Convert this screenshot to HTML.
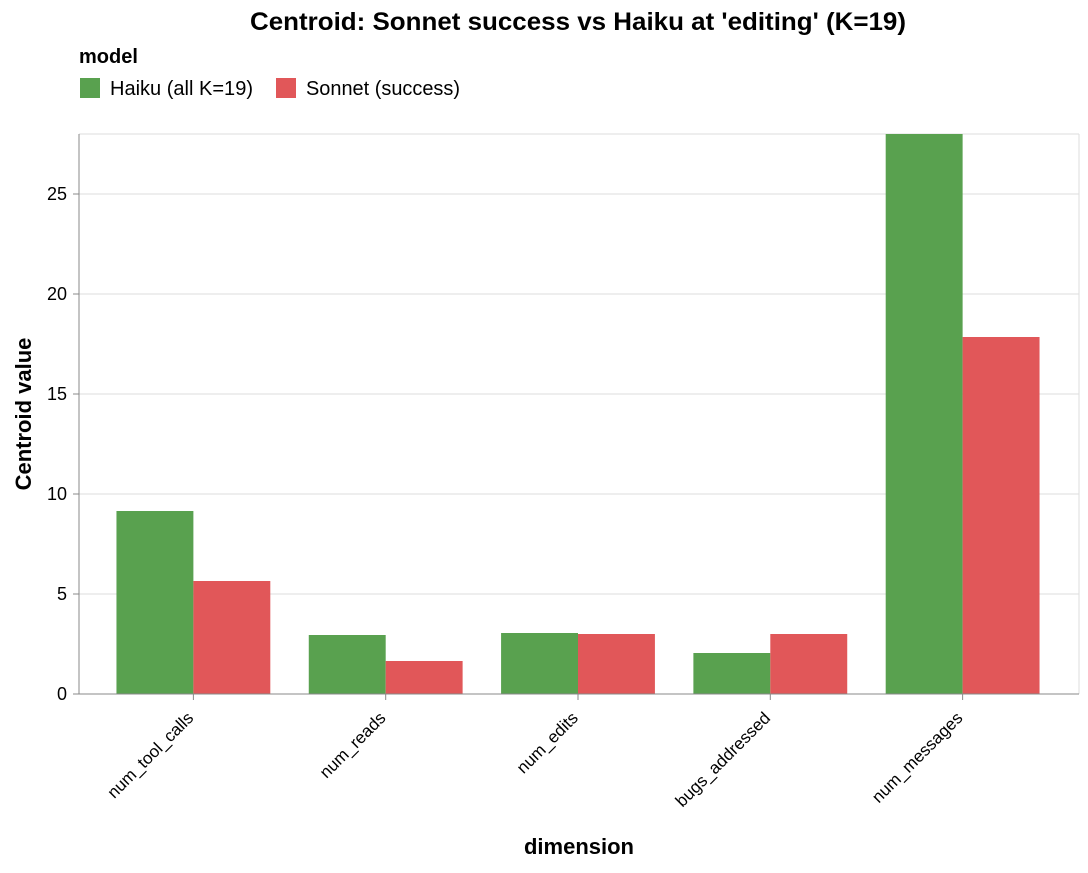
<!DOCTYPE html>
<html><head><meta charset="utf-8"><style>
body{margin:0;background:#fff;font-family:"Liberation Sans",Arial,sans-serif}
</style></head><body>
<svg id="chart" width="1088" height="868" xmlns="http://www.w3.org/2000/svg">
<text x="578" y="30" text-anchor="middle" font-size="25" font-weight="bold" textLength="656" lengthAdjust="spacingAndGlyphs">Centroid: Sonnet success vs Haiku at 'editing' (K=19)</text>
<text x="79" y="63" font-size="20" font-weight="bold">model</text>
<g><rect x="80" y="78" width="20" height="20" fill="#59a14f"/><text x="110" y="95" font-size="20" textLength="143" lengthAdjust="spacingAndGlyphs">Haiku (all K=19)</text></g>
<g><rect x="276" y="78" width="20" height="20" fill="#e15759"/><text x="306" y="95" font-size="20" textLength="154" lengthAdjust="spacingAndGlyphs">Sonnet (success)</text></g>
<g id="grid"></g><g id="bars"></g><g id="axes"></g>
<text x="0" y="0" transform="translate(31,414) rotate(-90)" text-anchor="middle" font-size="22" font-weight="bold">Centroid value</text>
<text x="579" y="854" text-anchor="middle" font-size="22" font-weight="bold">dimension</text>
</svg>
<script>
const categories=["num_tool_calls","num_reads","num_edits","bugs_addressed","num_messages"];
const haiku=[9.15,2.95,3.05,2.05,28];
const sonnet=[5.65,1.65,3.0,3.0,17.85];
const yTicks=[0,5,10,15,20,25];
const NS="http://www.w3.org/2000/svg";
const L=79,R=1079,T=134,B=694,YMAX=28;
const y=v=>B-(v/YMAX)*(B-T);
const step=(R-L)/(categories.length+0.2);
const band=step*0.8;
const x=i=>L+step*0.2+i*step-1;
function mk(tag,attrs,parent){const e=document.createElementNS(NS,tag);for(const k in attrs)e.setAttribute(k,attrs[k]);document.getElementById(parent).appendChild(e);return e;}
yTicks.forEach(t=>{
 const g=mk('line',{x1:L,x2:R,y1:y(t),y2:y(t),stroke:'#ddd','stroke-width':1},'grid');
 
 
 const tk=mk('line',{x1:L-6,x2:L,y1:y(t),y2:y(t),stroke:'#888'},'axes');
 
 
 const tx=mk('text',{x:L-12,y:y(t)+6,'text-anchor':'end','font-size':18},'axes');
 tx.textContent=t;
 
 
});
mk('line',{x1:R,x2:R,y1:T,y2:B,stroke:'#ddd'},'grid');
mk('line',{x1:L,x2:R,y1:T,y2:T,stroke:'#ddd'},'grid');
categories.forEach((c,i)=>{
 const w=band/2;
 const h=mk('rect',{x:x(i),y:y(haiku[i]),width:w,height:B-y(haiku[i]),fill:'#59a14f'},'bars');
 
 
 const s=mk('rect',{x:x(i)+w,y:y(sonnet[i]),width:w,height:B-y(sonnet[i]),fill:'#e15759'},'bars');
 
 
 const cx=x(i)+band/2;
 const tk=mk('line',{x1:cx,x2:cx,y1:B,y2:B+6,stroke:'#888'},'axes');
 
 
 const ax=cx+1, ay=B+25;
 const tx=mk('text',{x:ax,y:ay,'text-anchor':'end','font-size':17,transform:`rotate(-45 ${ax} ${ay})`},'axes');
 tx.textContent=c;
 
 
});
mk('line',{x1:L,x2:L,y1:T,y2:B,stroke:'#888'},'axes');
mk('line',{x1:L,x2:R,y1:B,y2:B,stroke:'#888'},'axes');
</script>
</body></html>
